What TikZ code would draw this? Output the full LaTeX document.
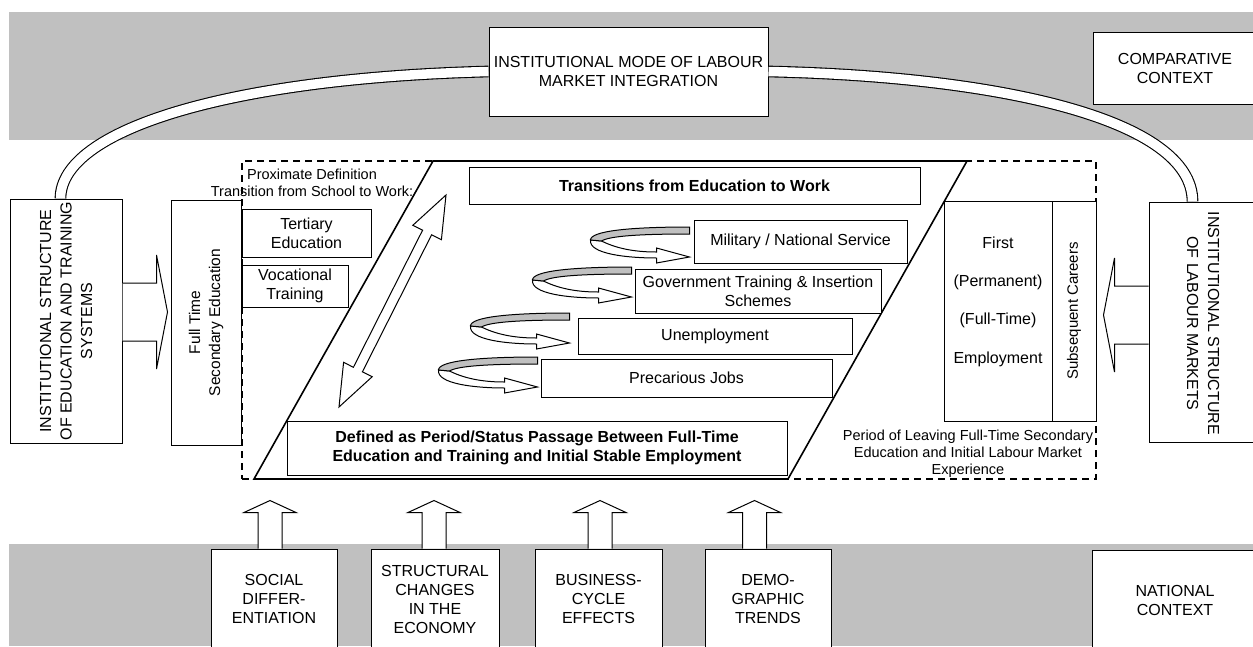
\documentclass[tikz,border=0pt]{standalone}
\usepackage{fontspec}
\setmainfont{Liberation Sans}
\usetikzlibrary{calc}
\definecolor{bandgray}{HTML}{C0C0C0}
\begin{document}
\begin{tikzpicture}[x=1pt,y=-1pt,
  box/.style={draw, line width=1pt, fill=white, inner sep=0pt, align=center,
    font=\fontsize{16}{19}\selectfont},
  boldbox/.style={box, font=\bfseries\fontsize{16}{19}\selectfont},
  txt/.style={inner sep=0pt, align=center, font=\fontsize{16}{19}\selectfont},
  smalltxt/.style={inner sep=0pt, align=center, font=\fontsize{14.5}{17}\selectfont},
  pipe/.style={draw, line width=1.1pt, double=white, double distance=9.5pt},
  blockarrow/.style={draw, line width=1pt, fill=white, line join=miter},
  frame/.style={draw, line width=1.6pt, dash pattern=on 7pt off 5pt, inner sep=0pt},
  para/.style={draw, line width=1.6pt, line join=miter},
  sidearr/.pic={\draw[blockarrow] (0,-29) -- (34,-29) -- (34,-57) -- (45,0)
      -- (34,57) -- (34,29) -- (0,29);},
  uparr/.pic={\draw[blockarrow] (-12,0) -- (-12,-36) -- (-26,-36) -- (0,-48)
      -- (26,-36) -- (12,-36) -- (12,0);},
  spiral/.pic={
    % front (white) half of the ribbon, ending in the arrow head
    \draw[blockarrow] (-88,-16) .. controls (-70,-7) and (-50,-5) .. (-33,-5)
      -- (-33,-9) -- (0,0) -- (-33,6) -- (-33,1)
      .. controls (-62,1) and (-101,-3) .. (-99,-17) -- cycle;
    % back (grey) half of the ribbon
    \draw[line width=1pt, fill=bandgray] (0,-30) .. controls (-60,-30) and (-99,-26) .. (-99,-17)
      -- (-88,-16) .. controls (-80,-21) and (-50,-23) .. (0,-23) -- cycle;}
]
\useasboundingbox (0,0) rectangle (1253,646);
\clip (0,0) rectangle (1253,646);

% context bands
\fill[bandgray] (9,12) rectangle (1253,140);
\fill[bandgray] (9,544) rectangle (1253,646);

% comparative level
\node[box, minimum width=279pt, minimum height=89pt] (mode) at (628.5,71.5)
  {INSTITUTIONAL MODE OF LABOUR\\MARKET INTEGRATION};
\node[box, minimum width=164pt, minimum height=72pt] (comp) at (1175,68)
  {COMPARATIVE\\CONTEXT};

% institutional structures
\node[box, minimum width=112pt, minimum height=244pt] (edu) at (66,321) {};
\node[txt, rotate=90, font=\fontsize{16}{20.5}\selectfont] (edutxt) at (edu.center)
  {INSTITUTIONAL STRUCTURE\\OF EDUCATION AND TRAINING\\SYSTEMS};
\node[box, minimum width=108pt, minimum height=240pt] (mkts) at (1203,322) {};
\node[txt, rotate=-90, font=\fontsize{16}{21}\selectfont] (mktstxt) at ($(mkts.center)+(0,1.5)$)
  {INSTITUTIONAL STRUCTURE\\OF LABOUR MARKETS};

% links through the mode of integration
\draw[pipe] ($(edu.north)+(-5.5,0)$) .. controls +(0,-69) and +(-259,6.5) .. (mode.west);
\draw[pipe] (mode.east) .. controls +(232,5) and +(0,-82) .. ($(mkts.north)+(-10.5,0)$);

% transition frame
\node[frame, minimum width=854pt, minimum height=318pt] (frame) at (669,320) {};
\draw[para] (254,479) -- (433,161) -- (967,161) -- (788,479) -- cycle;

\node[smalltxt] (prox) at (312,182.5) {Proximate Definition\\Transition from School to Work:};
\node[smalltxt] (period) at (968,454) {Period of Leaving Full-Time Secondary\\Education and Initial Labour Market\\Experience};

% school side
\node[box, minimum width=70pt, minimum height=245pt] (ftse) at (206,322.5) {};
\node[txt, rotate=90, font=\fontsize{15.5}{20}\selectfont] (ftsetxt) at (ftse.center)
  {Full Time\\Secondary Education};
\node[box, minimum width=129pt, minimum height=48pt] (tert) at (306.5,233) {Tertiary\\Education};
\node[box, minimum width=106pt, minimum height=42pt] (voc) at (295,286) {Vocational\\Training};

% transitions
\node[boldbox, minimum width=451pt, minimum height=37pt] (trans) at (694.5,185.5)
  {Transitions from Education to Work};
\node[box, minimum width=213pt, minimum height=43pt] (mil) at (800.5,241.5) {Military / National Service};
\node[box, minimum width=246pt, minimum height=44pt] (gov) at (758,291)
  {Government Training \& Insertion\\Schemes};
\node[box, minimum width=274pt, minimum height=36pt] (unemp) at (715,336) {Unemployment};
\node[box, minimum width=291pt, minimum height=38pt] (prec) at (686.5,378) {Precarious Jobs};
\node[boldbox, minimum width=500pt, minimum height=54pt] (defd) at (537,448)
  {Defined as Period/Status Passage Between Full-Time\\Education and Training and Initial Stable Employment};

\pic at ($(mil.west)+(-4,15.5)$) {spiral};
\pic at ($(gov.west)+(-3,6)$) {spiral};
\pic at ($(unemp.west)+(-8,7)$) {spiral};
\pic at ($(prec.west)+(-3,9)$) {spiral};

% two-way arrow across the passage
\draw[blockarrow] (339,407) -- (372.2,376.7) -- (362.4,371.8) -- (431.6,234.8)
  -- (441.4,239.7) -- (446,195) -- (412.8,225.3) -- (422.6,230.2)
  -- (353.4,367.3) -- (343.6,362.3) -- cycle;

% labour market side
\node[box, minimum width=108pt, minimum height=220pt] (first) at (998,311) {};
\node[txt, font=\fontsize{16}{38.3}\selectfont] (firsttxt) at (998,301.5)
  {First\\(Permanent)\\(Full-Time)\\Employment};
\node[box, minimum width=44pt, minimum height=220pt] (subs) at (1074,311) {};
\node[txt, rotate=90, font=\fontsize{15}{18}\selectfont] (substxt) at (subs.center) {Subsequent Careers};

% feeding block arrows
\pic at ($(edu.east)+(0,-9)$) {sidearr};
\pic[xscale=-1] at ($(mkts.west)+(0,-7)$) {sidearr};

% national context
\node[box, minimum width=126pt, minimum height=100pt] (social) at (274,599) {SOCIAL\\DIFFER-\\ENTIATION};
\node[box, minimum width=128pt, minimum height=100pt] (struct) at (435,599) {STRUCTURAL\\CHANGES\\IN THE\\ECONOMY};
\node[box, minimum width=127pt, minimum height=100pt] (busi) at (598.5,599) {BUSINESS-\\CYCLE\\EFFECTS};
\node[box, minimum width=126pt, minimum height=100pt] (demo) at (768,599) {DEMO-\\GRAPHIC\\TRENDS};
\node[box, minimum width=166pt, minimum height=100pt] (natl) at (1175,600) {NATIONAL\\CONTEXT};

\pic at ($(social.north)+(-4,0)$) {uparr};
\pic at ($(struct.north)+(-1,0)$) {uparr};
\pic at ($(busi.north)+(1.5,0)$) {uparr};
\pic at ($(demo.north)+(-13.5,0)$) {uparr};
\end{tikzpicture}
\end{document}
